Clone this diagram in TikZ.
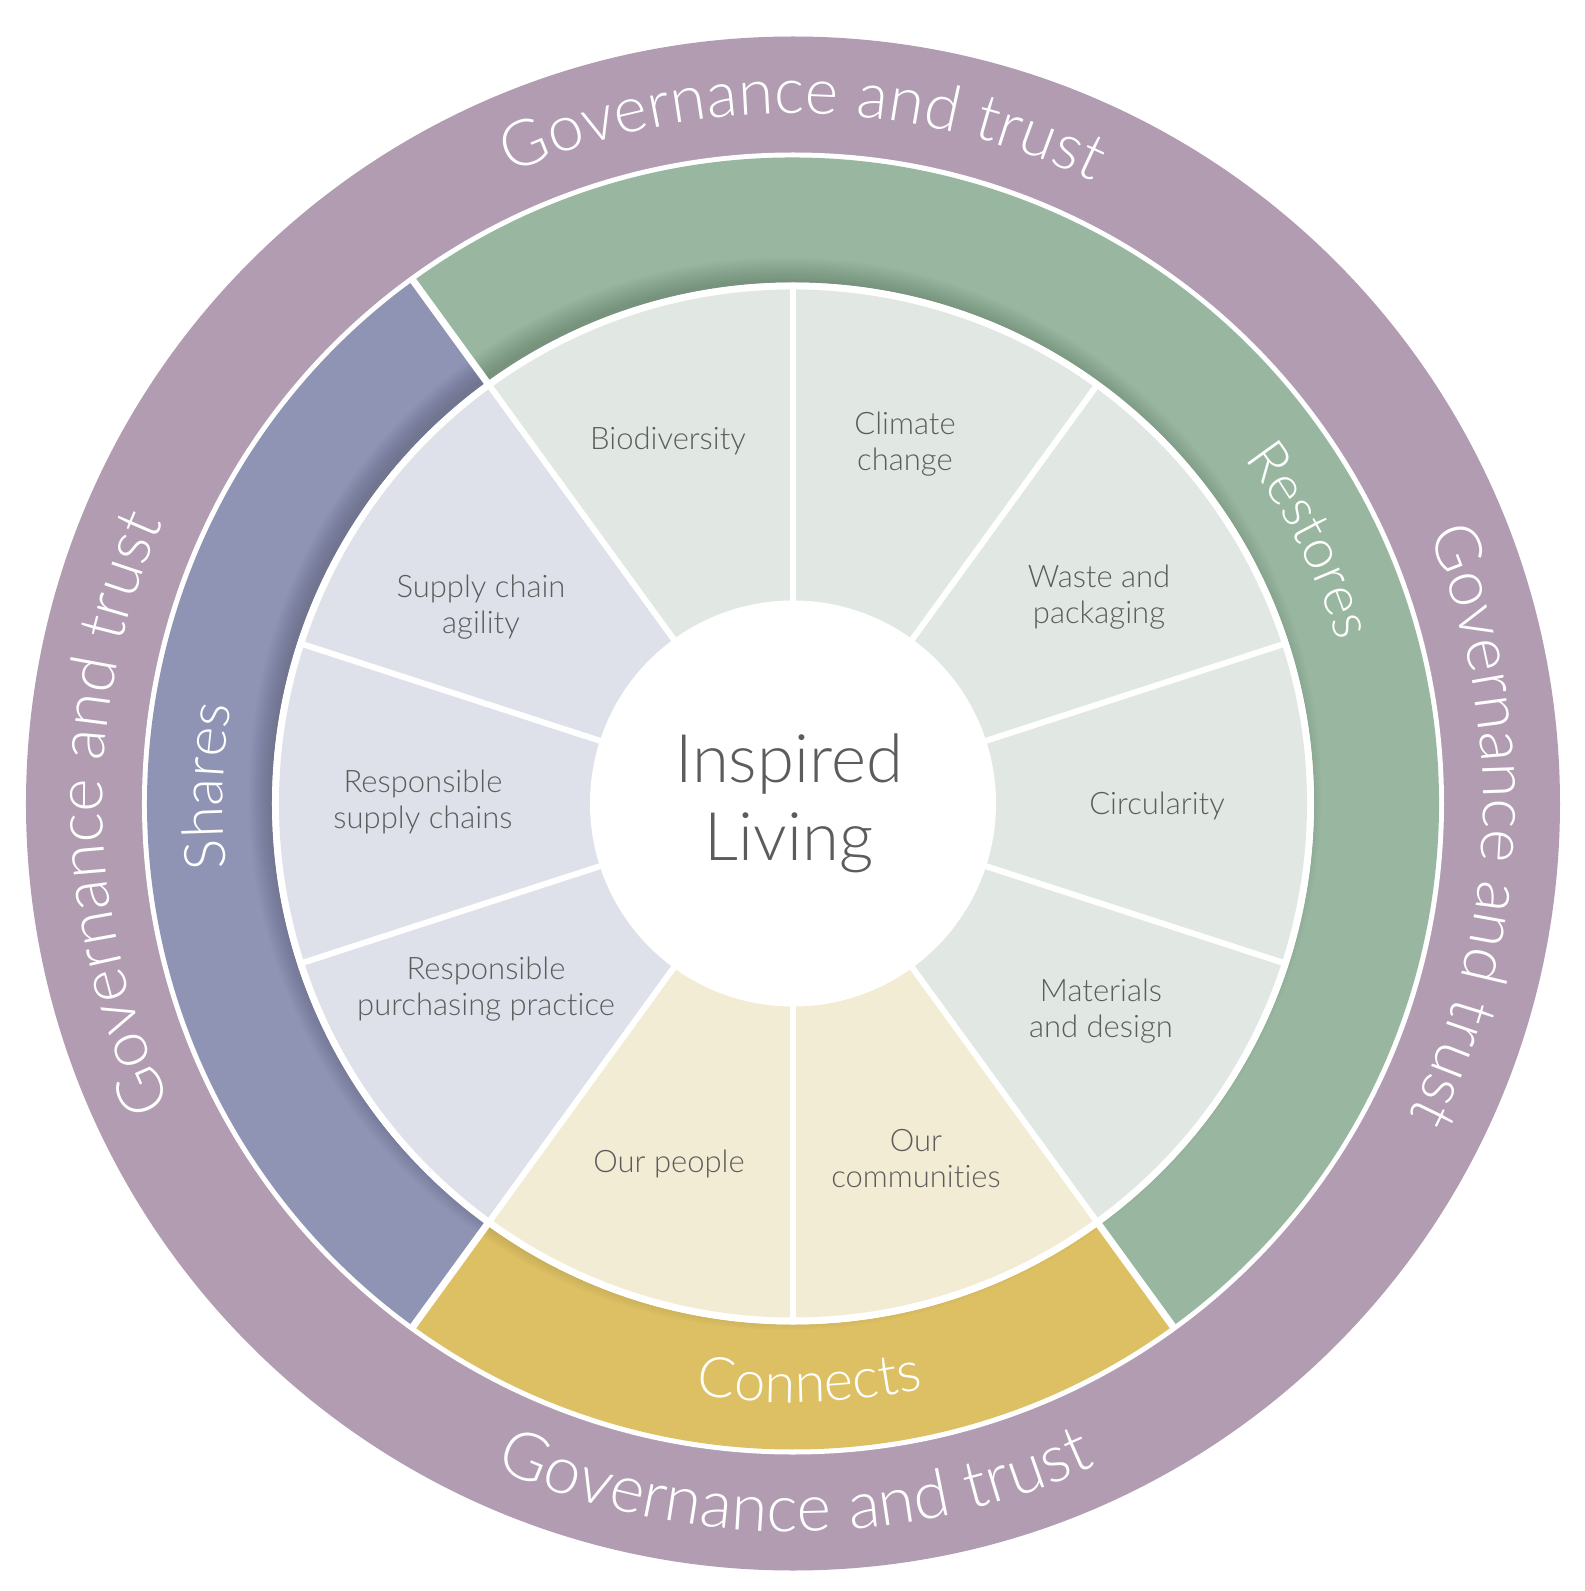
\documentclass[tikz,border=0pt]{standalone}
\usepackage{fontspec}
\setmainfont{Lato Light}[Ligatures=NoCommon]
\usetikzlibrary{decorations.text}
\definecolor{govc}{HTML}{B19CB1}
\definecolor{resc}{HTML}{99B7A0}
\definecolor{shac}{HTML}{8F94B4}
\definecolor{conc}{HTML}{DDC064}
\definecolor{resl}{HTML}{E1E8E3}
\definecolor{shal}{HTML}{DFE1EA}
\definecolor{conl}{HTML}{F3ECD4}
\definecolor{txtc}{HTML}{5C5C5C}
\newcommand\annsec[5]{%
  \fill[#1] (#2:#5) arc[start angle=#2,end angle=#3,radius=#5] -- (#3:#4) arc[start angle=#3,end angle=#2,radius=#4] -- cycle;}
\begin{document}
\begin{tikzpicture}[x=1pt,y=1pt,
  segtext/.style={text=txtc, align=center, font=\fontsize{31}{36}\selectfont},
  sepline/.style={white, line width=6pt},
  bandsep/.style={white, line width=7pt},
  govtext/.style={decorate, decoration={text along path, text={|\fontsize{#1}{70}\selectfont|Governance and trust}, text align=center, text color=white}},
  govtext/.default=64,
  bandtext/.style 2 args={decorate, decoration={text along path, text={|\fontsize{#2}{60}\selectfont|#1}, text align=center, text color=white}}]
\fill[white] (-793,-787.5) rectangle (792,803.5);
\useasboundingbox (-793,-787.5) rectangle (792,803.5);
% outer ring
\fill[govc] (0,0) circle[radius=767];
\fill[white] (0,0) circle[radius=651];
% bands
\annsec{resc}{-54}{126}{521}{646}
\annsec{shac}{126}{234}{521}{646}
\annsec{conc}{234}{306}{521}{646}
% soft shadow of the inner disc on the bands
\begin{scope}
  \clip (0,0) circle[radius=646];
  \foreach \i in {0,...,11} \fill[black, opacity=0.014] (-8,10) circle[radius=514+2*\i];
\end{scope}
\fill[white] (0,0) circle[radius=521];
% segments
\annsec{resl}{-54}{126}{195}{514}
\annsec{shal}{126}{234}{195}{514}
\annsec{conl}{234}{306}{195}{514}
\foreach \a in {18,54,...,342} \draw[sepline] (\a:190) -- (\a:517);
\foreach \a in {126,234,306} \draw[bandsep] (\a:516) -- (\a:650);
% centre
\node[circle, fill=white, minimum size=406pt, inner sep=0pt] (core) at (0,0) {};
\node[text=txtc, align=center, font=\fontsize{67}{78}\selectfont] (title) at (-4,0) {Inspired\\Living};
% segment labels
\node[segtext] (bio) at (-125,362.5) {Biodiversity};
\node[segtext] (clim) at (112,359.5) {Climate\\change};
\node[segtext] (waste) at (306,206.5) {Waste and\\packaging};
\node[segtext] (circ) at (364,-2.5) {Circularity};
\node[segtext] (mat) at (308,-207.5) {Materials\\and design};
\node[segtext] (comm) at (123,-355.5) {Our\\communities};
\node[segtext] (peop) at (-124,-360.5) {Our people};
\node[segtext] (purch) at (-307,-185.5) {Responsible\\purchasing practice};
\node[segtext] (resp) at (-370,1.5) {Responsible\\supply chains};
\node[segtext] (agil) at (-312,196.5) {Supply chain\\agility};
% band labels
\path[bandtext={Restores}{55}] (87:568) arc[start angle=87,end angle=-33,radius=568];
\path[bandtext={Shares}{57}] (238.3:570) arc[start angle=238.3,end angle=118.3,radius=570];
\path[bandtext={Connects}{56}] (211.6:599) arc[start angle=211.6,end angle=331.6,radius=599];
% governance labels
\path[govtext] (149.2:690) arc[start angle=149.2,end angle=29.2,radius=690];
\path[govtext] (58.1:690) arc[start angle=58.1,end angle=-61.9,radius=690];
\path[govtext] (240.9:690) arc[start angle=240.9,end angle=120.9,radius=690];
\path[govtext=66] (210.2:728) arc[start angle=210.2,end angle=330.2,radius=728];
\end{tikzpicture}
\end{document}
